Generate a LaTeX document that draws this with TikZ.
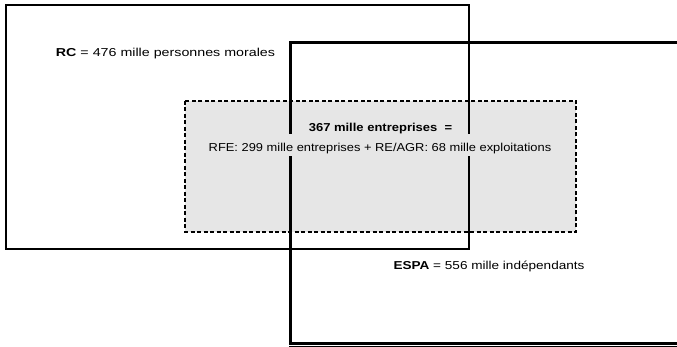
\documentclass[tikz,border=0pt]{standalone}
\usepackage{fontspec}
\setmainfont{Liberation Sans}
\usepackage{graphicx}
\definecolor{boxgray}{RGB}{230,230,230}
\newcommand{\wx}[2]{\scalebox{#1}[1]{#2}}
\tikzset{
  lbl/.style={font=\fontsize{11.5}{13}\selectfont, inner sep=0pt, anchor=base},
  rcbox/.style={draw=black, line width=2pt},
  espabox/.style={draw=black, line width=3pt},
  overlapbox/.style={draw=black, line width=2pt, dash pattern=on 4pt off 2.5pt},
}
\begin{document}
\begin{tikzpicture}[x=1pt,y=-1pt]
\useasboundingbox (0,0) rectangle (677,347);
\clip (0,0) rectangle (677,347);
% overlap (dashed) region fill
\fill[boxgray] (185,101) rectangle (576,232);
% RC box
\draw[rcbox] (6,5) rectangle (469,249);
% ESPA box
\draw[espabox] (290.5,42.5) rectangle (700,343.5);
\draw[line width=1pt] (289,346.5) -- (700,346.5);
% dashed border
\draw[overlapbox] (185,101) rectangle (576,232);
% texts
\node[lbl] (rc) at (165.5,56.5) {\wx{1.24}{\textbf{RC} = 476 mille personnes morales}};
\node[lbl] (tot) at (380.5,132) {\wx{1.13}{\textbf{367 mille entreprises~~=}}};
\node[lbl, fill=boxgray, text height=14pt, text depth=0pt, inner ysep=4pt, inner xsep=2pt] (rfe) at (380,152)
  {\wx{1.12}{RFE: 299 mille entreprises + RE/AGR: 68 mille exploitations}};
\node[lbl] (espa) at (489,269.5) {\wx{1.18}{\textbf{ESPA} = 556 mille indépendants}};
\end{tikzpicture}
\end{document}
